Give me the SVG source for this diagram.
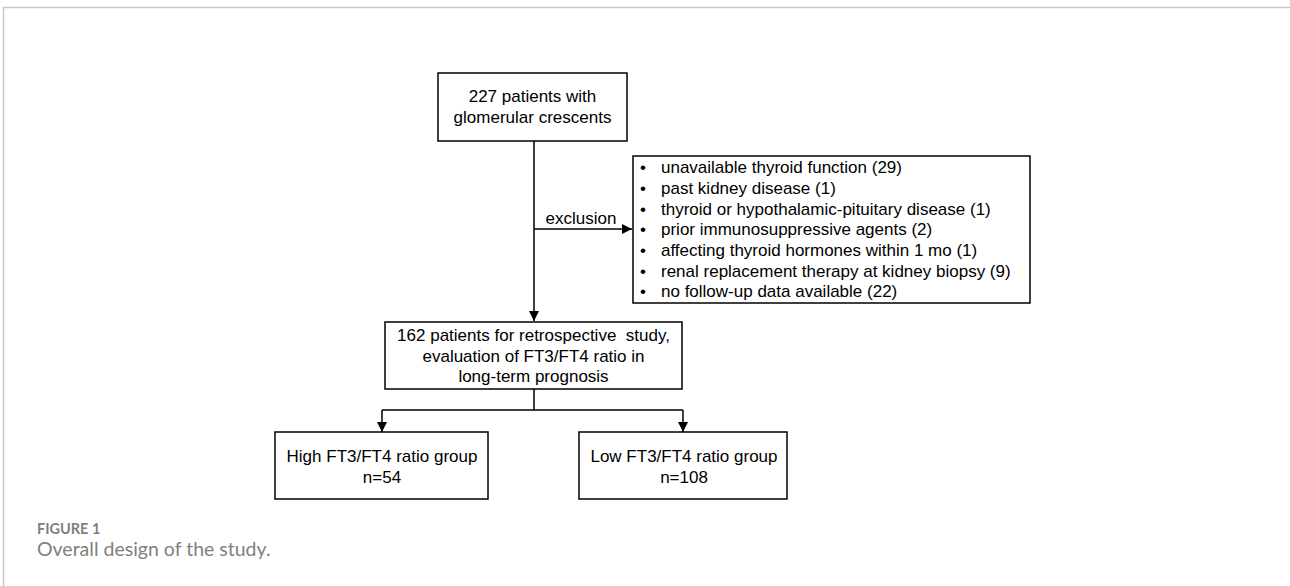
<svg xmlns="http://www.w3.org/2000/svg" width="1290" height="586" viewBox="0 0 1290 586">
<style>
.box{fill:#fff;stroke:#000;stroke-width:1.5}
.t{font-family:"Liberation Sans",Arial,sans-serif;font-size:17px;fill:#000}
.c{text-anchor:middle}
.ln{fill:none;stroke:#000;stroke-width:1.5}
</style>
<defs>
<marker id="ah" viewBox="0 0 10 10" refX="10" refY="5" markerWidth="10" markerHeight="10" markerUnits="userSpaceOnUse" orient="auto">
<path d="M0,0 L10,5 L0,10 Z" fill="#000"/>
</marker>
</defs>
<rect width="1290" height="586" fill="#fff"/>
<path d="M3.5,586 V7.5 H1290" fill="none" stroke="#c8c8c8" stroke-width="1.5"/>
<g id="connectors">
<path class="ln" d="M534,141 V321" marker-end="url(#ah)"/>
<path class="ln" d="M534,229 H632" marker-end="url(#ah)"/>
<path class="ln" d="M534,389 V410 M382,410 H683"/>
<path class="ln" d="M382,410 V432" marker-end="url(#ah)"/>
<path class="ln" d="M683,410 V432" marker-end="url(#ah)"/>
<text class="t c" x="581" y="224">exclusion</text>
</g>
<g id="start">
<rect class="box" x="438" y="73" width="189" height="68"/>
<text class="t c" x="532.5" y="102">227 patients with</text>
<text class="t c" x="532.5" y="123">glomerular crescents</text>
</g>
<g id="exclusions">
<rect class="box" x="633" y="156" width="397" height="147"/>
<g class="t">
<text x="640" y="173">•</text><text x="661" y="173">unavailable thyroid function (29)</text>
<text x="640" y="194">•</text><text x="661" y="194">past kidney disease (1)</text>
<text x="640" y="215">•</text><text x="661" y="215">thyroid or hypothalamic-pituitary disease (1)</text>
<text x="640" y="235">•</text><text x="661" y="235">prior immunosuppressive agents (2)</text>
<text x="640" y="256">•</text><text x="661" y="256">affecting thyroid hormones within 1 mo (1)</text>
<text x="640" y="277">•</text><text x="661" y="277">renal replacement therapy at kidney biopsy (9)</text>
<text x="640" y="297">•</text><text x="661" y="297">no follow-up data available (22)</text>
</g>
</g>
<g id="cohort">
<rect class="box" x="385" y="322" width="297" height="67"/>
<text class="t c" x="533.5" y="341" xml:space="preserve">162 patients for retrospective  study,</text>
<text class="t c" x="533.5" y="362">evaluation of FT3/FT4 ratio in</text>
<text class="t c" x="533.5" y="382">long-term prognosis</text>
</g>
<g id="high">
<rect class="box" x="275" y="432" width="213" height="67"/>
<text class="t c" x="382" y="462">High FT3/FT4 ratio group</text>
<text class="t c" x="382" y="483">n=54</text>
</g>
<g id="low">
<rect class="box" x="579" y="432" width="208" height="67"/>
<text class="t c" x="684" y="462">Low FT3/FT4 ratio group</text>
<text class="t c" x="684" y="483">n=108</text>
</g>
<text x="37" y="534" font-family="Lato,'Open Sans',sans-serif" font-size="14.5" font-weight="bold" fill="#808080">FIGURE 1</text>
<text x="37" y="556" font-family="Lato,'Open Sans',sans-serif" font-size="19.5" fill="#808080">Overall design of the study.</text>
</svg>
